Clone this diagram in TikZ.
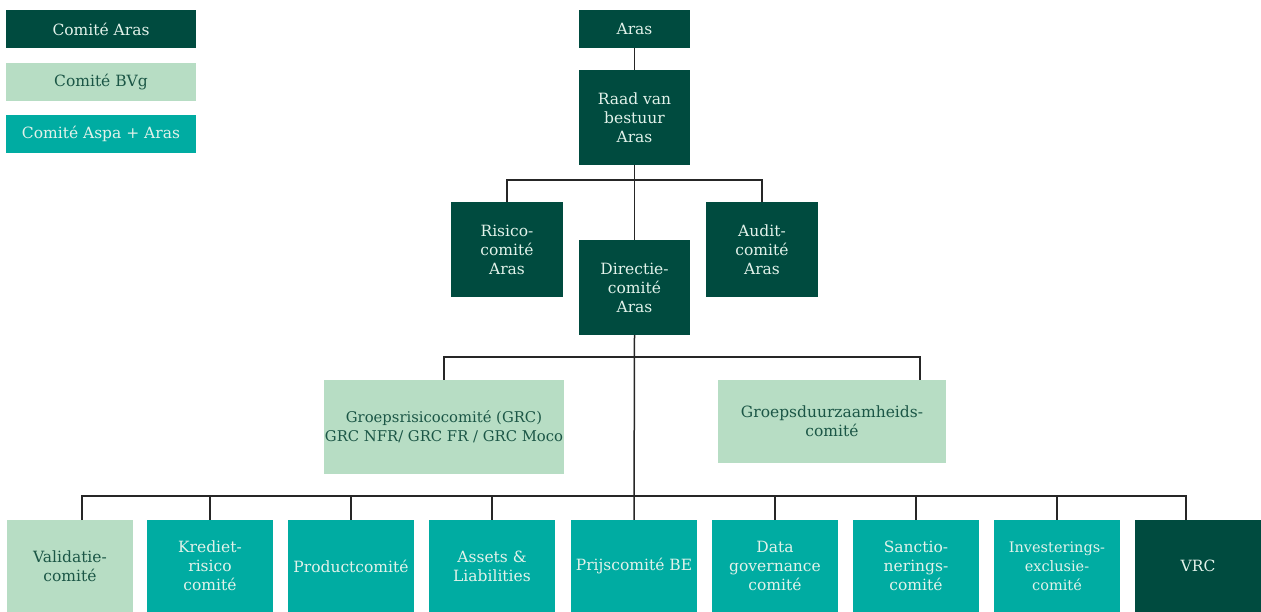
\documentclass[tikz,border=0pt]{standalone}
\usepackage{fontspec}
\setmainfont{DejaVu Serif}
\definecolor{dkg}{HTML}{004B3F}
\definecolor{ltg}{HTML}{B7DDC4}
\definecolor{tea}{HTML}{00ACA2}
\definecolor{txl}{HTML}{E2F2EA}
\definecolor{txd}{HTML}{1B5646}
\tikzset{
  box/.style={rectangle, inner sep=0pt, align=center, font=\fontsize{15.5}{19}\selectfont},
  dk/.style={box, fill=dkg, text=txl},
  lt/.style={box, fill=ltg, text=txd},
  tl/.style={box, fill=tea, text=txl},
  wire/.style={draw=black!85, line width=1.5pt}
}
\newcommand{\bx}[7]{\node[#2, minimum width={(#5-#3)*1pt}, minimum height={(#6-#4)*1pt}] (#1) at ({(#3+#5)/2},{(#4+#6)/2}) {#7};}
\begin{document}
\begin{tikzpicture}[x=1pt,y=-1pt]
\useasboundingbox (0,0) rectangle (1261,612);
% legend
\bx{lega}{dk}{6}{10}{196}{48}{Comité Aras}
\bx{legb}{lt}{6}{63}{196}{101}{Comité BVg}
\bx{legc}{tl}{6}{115}{196}{153}{Comité Aspa + Aras}
% top
\bx{aras}{dk}{579}{10}{690}{48}{Aras}
\bx{raad}{dk}{579}{70}{690}{165}{Raad van\\bestuur\\Aras}
\bx{risico}{dk}{451}{202}{563}{297}{Risico-\\comité\\Aras}
\bx{audit}{dk}{706}{202}{818}{297}{Audit-\\comité\\Aras}
\bx{dir}{dk}{579}{240}{690}{335}{Directie-\\comité\\Aras}
% middle
\bx{grc}{lt,font=\fontsize{14.8}{19}\selectfont}{324}{380}{564}{474}{Groepsrisicocomité (GRC)\\GRC NFR/ GRC FR / GRC Moco}
\bx{grd}{lt}{718}{380}{946}{463}{Groepsduurzaamheids-\\comité}
% bottom
\bx{val}{lt}{7}{520}{133}{612}{Validatie-\\comité}
\bx{kred}{tl}{147}{520}{273}{612}{Krediet-\\risico\\comité}
\bx{prod}{tl}{288}{520}{414}{612}{Productcomité}
\bx{ass}{tl}{429}{520}{555}{612}{Assets \&\\Liabilities}
\bx{prijs}{tl}{571}{520}{697}{612}{Prijscomité BE}
\bx{data}{tl}{712}{520}{838}{612}{Data\\governance\\comité}
\bx{sanc}{tl}{853}{520}{979}{612}{Sanctio-\\nerings-\\comité}
\bx{inv}{tl,font=\fontsize{14.5}{19}\selectfont}{994}{520}{1120}{612}{Investerings-\\exclusie-\\comité}
\bx{vrc}{dk}{1135}{520}{1261}{612}{VRC}
% connectors
\coordinate (b1) at (634.5,180);
\coordinate (b2) at (634.5,357);
\coordinate (b3) at (634.5,496);
\coordinate (grdt) at (920,380);
\coordinate (valt) at (82,520);
\coordinate (vrct) at (1186,520);
\draw[wire] (aras) -- (raad);
\draw[wire] (raad) -- (dir);
\draw[wire] (risico.north) |- (b1) -| (audit.north);
\draw[wire] (dir.south) -- (prijs.north);
\draw[wire] (grc.north) |- (b2) -| (grdt);
\draw[wire] (valt) |- (b3) -| (vrct);
\foreach \n in {kred,prod,ass,data,sanc,inv}
  \draw[wire] (\n.north) -- (\n.north |- b3);
\end{tikzpicture}
\end{document}
